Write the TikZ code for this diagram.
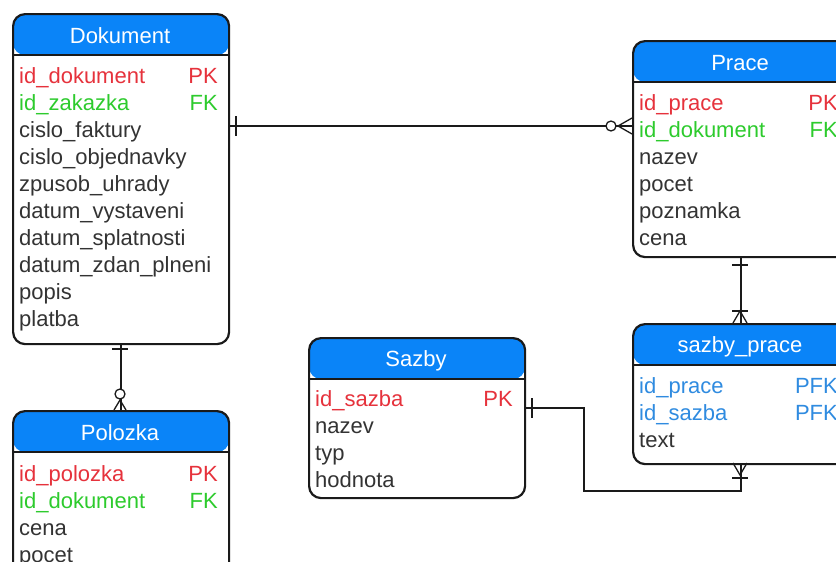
\documentclass[tikz,border=0pt]{standalone}
\usepackage{fontspec}
\setmainfont{Liberation Sans}
\usetikzlibrary{calc}
\definecolor{hdr}{HTML}{0A84F8}
\definecolor{pkred}{HTML}{E6323C}
\definecolor{fkgreen}{HTML}{2DCB2D}
\definecolor{pfkblue}{HTML}{2F8BE0}
\definecolor{txt}{HTML}{333333}
\definecolor{edge}{HTML}{1A1A1A}
\tikzset{
  entity/.style={draw=edge, line width=2.2pt, rounded corners=12pt, fill=white,
    anchor=north west, minimum width=216pt, inner sep=0pt,
    path picture={
      \fill[hdr] (path picture bounding box.north west) rectangle ([yshift=-41pt]path picture bounding box.north east);
      \draw[edge, line width=2pt] ([yshift=-41pt]path picture bounding box.north west) -- ([yshift=-41pt]path picture bounding box.north east);
    }},
  ttl/.style={text=white, font=\fontsize{22}{26}\selectfont, anchor=base, inner sep=0pt},
  fld/.style={font=\fontsize{22}{26}\selectfont, anchor=base west, inner sep=0pt, text=txt},
  keyf/.style={font=\fontsize{22}{26}\selectfont, anchor=base east, inner sep=0pt},
  rel/.style={draw=edge, line width=1.3pt},
}
\begin{document}
\begin{tikzpicture}[x=1pt,y=-1pt]
\clip (0,0) rectangle (836,562);
\fill[white] (0,0) rectangle (836,562);

% ---- entities ----
\node[entity, minimum height=330pt] (dok) at (12,13) {};
\node[entity, minimum height=190pt] (pol) at (12,410) {};
\node[entity, minimum height=216pt] (pr) at (632,40) {};
\node[entity, minimum height=140pt] (sp) at (632,323) {};
\node[entity, minimum height=160pt] (sz) at (308,337) {};

% ---- Dokument ----
\node[ttl] (dokT) at (120,43) {Dokument};
\node[fld, text=pkred] (dok1) at (19,83) {id\_dokument};
\node[fld, text=fkgreen] (dok2) at (19,110) {id\_zakazka};
\node[fld] (dok3) at (19,137) {cislo\_faktury};
\node[fld] (dok4) at (19,164) {cislo\_objednavky};
\node[fld] (dok5) at (19,191) {zpusob\_uhrady};
\node[fld] (dok6) at (19,218) {datum\_vystaveni};
\node[fld] (dok7) at (19,245) {datum\_splatnosti};
\node[fld] (dok8) at (19,272) {datum\_zdan\_plneni};
\node[fld] (dok9) at (19,299) {popis};
\node[fld] (dok10) at (19,326) {platba};
\node[keyf, text=pkred] (dokK1) at (218,83) {PK};
\node[keyf, text=fkgreen] (dokK2) at (218,110) {FK};

% ---- Polozka ----
\node[ttl] (polT) at (120,440) {Polozka};
\node[fld, text=pkred] (pol1) at (19,481) {id\_polozka};
\node[fld, text=fkgreen] (pol2) at (19,508) {id\_dokument};
\node[fld] (pol3) at (19,535) {cena};
\node[fld] (pol4) at (19,562) {pocet};
\node[keyf, text=pkred] (polK1) at (218,481) {PK};
\node[keyf, text=fkgreen] (polK2) at (218,508) {FK};

% ---- Prace ----
\node[ttl] (prT) at (740,70) {Prace};
\node[fld, text=pkred] (pr1) at (639,110) {id\_prace};
\node[fld, text=fkgreen] (pr2) at (639,137) {id\_dokument};
\node[fld] (pr3) at (639,164) {nazev};
\node[fld] (pr4) at (639,191) {pocet};
\node[fld] (pr5) at (639,218) {poznamka};
\node[fld] (pr6) at (639,245) {cena};
\node[keyf, text=pkred] (prK1) at (838,110) {PK};
\node[keyf, text=fkgreen] (prK2) at (838,137) {FK};

% ---- sazby_prace ----
\node[ttl] (spT) at (740,352) {sazby\_prace};
\node[fld, text=pfkblue] (sp1) at (639,393) {id\_prace};
\node[fld, text=pfkblue] (sp2) at (639,420) {id\_sazba};
\node[fld] (sp3) at (639,447) {text};
\node[keyf, text=pfkblue] (spK1) at (838,393) {PFK};
\node[keyf, text=pfkblue] (spK2) at (838,420) {PFK};

% ---- Sazby ----
\node[ttl] (szT) at (416,366) {Sazby};
\node[fld, text=pkred] (sz1) at (315,406) {id\_sazba};
\node[fld] (sz2) at (315,433) {nazev};
\node[fld] (sz3) at (315,460) {typ};
\node[fld] (sz4) at (315,487) {hodnota};
\node[keyf, text=pkred] (szK1) at (513,406) {PK};

% ---- Dokument -- Prace ----
\draw[rel] (dok.east |- 0,126) -- (pr.west |- 0,126);
\draw[rel] (236,116) -- (236,136);
\draw[rel, fill=white] (611,126) circle (5pt);
\draw[rel] (632,118) -- (618,126) -- (632,134);

% ---- Dokument -- Polozka ----
\draw[rel] (dok.south) -- (pol.north);
\draw[rel] (112,349) -- (128,349);
\draw[rel, fill=white] (120,394) circle (5pt);
\draw[rel] (114,410) -- (120,400) -- (126,410);

% ---- Prace -- sazby_prace ----
\draw[rel] (pr.south) -- (sp.north);
\draw[rel] (732,265) -- (748,265);
\draw[rel] (732,311) -- (748,311);
\draw[rel] (733,323) -- (740,311) -- (747,323);

% ---- Sazby -- sazby_prace ----
\draw[rel] (sz.east |- 0,408) -- (584,408) |- (sp.south |- 0,491) -- (sp.south);
\draw[rel] (532,398) -- (532,418);
\draw[rel] (732,478) -- (748,478);
\draw[rel] (733,463) -- (740,475) -- (747,463);
\end{tikzpicture}
\end{document}
